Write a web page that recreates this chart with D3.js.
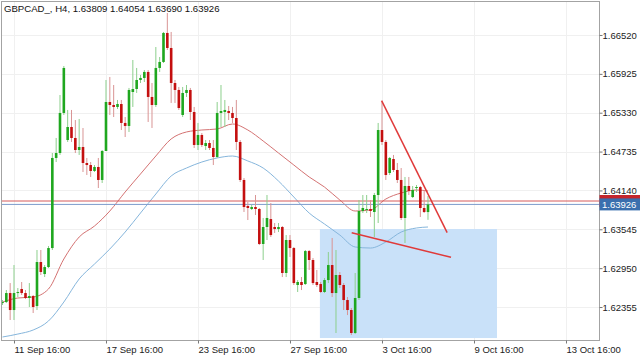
<!DOCTYPE html>
<html><head><meta charset="utf-8">
<script src="https://cdn.jsdelivr.net/npm/d3@7"></script>
<style>
html,body{margin:0;padding:0;background:#fff;}
svg{display:block;font-family:"Liberation Sans",Arial,sans-serif;}
</style></head><body>
<svg id="chart" width="640" height="359"></svg>
<script>
const title = "GBPCAD_, H4, 1.63809 1.64054 1.63690 1.63926";
const firstBarIndex = -3;
const open = [1.62416,1.62431,1.62569,1.62309,1.62569,1.62631,1.62569,1.62493,1.62523,1.62370,
1.63044,1.62860,1.62967,1.63258,1.64637,1.64713,1.65326,1.64912,1.65111,1.64943,
1.64759,1.64805,1.64560,1.64529,1.64438,1.64499,1.64300,1.64744,1.65494,1.65448,
1.65418,1.65463,1.65173,1.65127,1.65647,1.65693,1.65831,1.65862,1.65954,1.65571,
1.65448,1.66015,1.66107,1.66551,1.66321,1.65785,1.65678,1.65295,1.65632,1.65678,
1.65341,1.64836,1.64989,1.64820,1.64866,1.64790,1.64652,1.65326,1.65341,1.65356,
1.65326,1.65249,1.64882,1.64300,1.63902,1.63856,1.63886,1.63856,1.63320,1.63580,
1.63702,1.63580,1.63549,1.63580,1.62876,1.63381,1.63258,1.62692,1.62738,1.62707,
1.63212,1.63075,1.62738,1.62707,1.62585,1.62768,1.62998,1.62569,1.62845,1.62692,
1.62462,1.62309,1.61957,1.62493,1.63825,1.63840,1.63856,1.63810,1.64070,1.65065,
1.64882,1.64407,1.64621,1.64453,1.64300,1.63718,1.64208,1.64039,1.64177,1.64192,
1.63871,1.63809];
const high = [1.62462,1.62615,1.62722,1.62998,1.62646,1.62738,1.62615,1.62722,1.62539,1.63228,
1.63228,1.62998,1.63289,1.64713,1.64943,1.65601,1.66045,1.65372,1.65372,1.65218,
1.65234,1.65096,1.64637,1.64575,1.64529,1.64637,1.64759,1.65831,1.65877,1.65754,
1.65525,1.65525,1.65264,1.65709,1.66137,1.66015,1.65908,1.65984,1.65984,1.65785,
1.66336,1.66183,1.66566,1.66857,1.66566,1.65831,1.65724,1.65724,1.65754,1.65709,
1.65418,1.65173,1.65019,1.64912,1.64912,1.64912,1.65494,1.65754,1.65525,1.65433,
1.65418,1.65525,1.64912,1.64330,1.63963,1.63917,1.64070,1.63871,1.63718,1.64070,
1.63947,1.63641,1.63641,1.63595,1.63457,1.63457,1.63274,1.62768,1.62814,1.63228,
1.63228,1.63105,1.62922,1.62738,1.62799,1.63197,1.63412,1.63228,1.62891,1.62722,
1.62508,1.62340,1.62876,1.63993,1.64070,1.64070,1.63993,1.64101,1.65173,1.65509,
1.64912,1.64652,1.64683,1.64560,1.64483,1.64346,1.64346,1.64208,1.64223,1.64208,
1.64147,1.64054];
const low = [1.62386,1.62416,1.62156,1.62156,1.62508,1.62539,1.62477,1.62355,1.62263,1.62309,
1.62845,1.62814,1.62952,1.63228,1.64575,1.64683,1.65295,1.64882,1.64882,1.64713,
1.64683,1.64422,1.64376,1.64346,1.64422,1.64177,1.64254,1.64744,1.65295,1.65264,
1.65387,1.65065,1.64958,1.65035,1.65418,1.65632,1.65785,1.65800,1.65188,1.65096,
1.65418,1.65954,1.66091,1.66290,1.65479,1.65479,1.65372,1.65264,1.65571,1.65218,
1.64790,1.64759,1.64805,1.64759,1.64759,1.64529,1.64637,1.65111,1.65111,1.65218,
1.65173,1.64759,1.64269,1.63810,1.63687,1.63840,1.63764,1.63304,1.63075,1.63381,
1.63427,1.63488,1.63503,1.62814,1.62814,1.63121,1.62692,1.62585,1.62615,1.62692,
1.62922,1.62692,1.62661,1.62569,1.62569,1.62722,1.62508,1.61957,1.62646,1.62309,
1.62232,1.61926,1.61941,1.62462,1.63794,1.63794,1.63733,1.63427,1.63641,1.64836,
1.64300,1.64376,1.64422,1.64254,1.63687,1.63335,1.64070,1.64024,1.64116,1.63733,
1.63794,1.63690];
const close = [1.62431,1.62569,1.62309,1.62569,1.62585,1.62569,1.62493,1.62523,1.62355,1.63044,
1.62891,1.62967,1.63258,1.64637,1.64713,1.65326,1.66015,1.65111,1.64943,1.64759,
1.64805,1.64560,1.64529,1.64438,1.64499,1.64300,1.64744,1.65494,1.65448,1.65418,
1.65463,1.65173,1.65127,1.65678,1.65693,1.65831,1.65862,1.65954,1.65571,1.65448,
1.66015,1.66107,1.66551,1.66321,1.65785,1.65678,1.65402,1.65632,1.65678,1.65341,
1.64836,1.64989,1.64836,1.64866,1.64790,1.64652,1.65326,1.65356,1.65372,1.65326,
1.65249,1.64882,1.64300,1.63886,1.63871,1.63886,1.63856,1.63320,1.63580,1.63718,
1.63457,1.63549,1.63580,1.62876,1.63381,1.63258,1.62722,1.62738,1.62692,1.63212,
1.63075,1.62722,1.62692,1.62585,1.62768,1.62998,1.62569,1.62845,1.62692,1.62462,
1.62309,1.61957,1.62493,1.63825,1.63871,1.63856,1.63825,1.64070,1.65065,1.64882,
1.64376,1.64637,1.64453,1.64300,1.63718,1.64208,1.64131,1.64147,1.64192,1.63871,
1.63810,1.63926];

const maIndex = [-3,1,5,9,13,17,21,25,29,33,37,41,45,49,53,57,61,65,69,73,77,81,85,89,93,97,101,105,108];
const maFast = [1.62431,1.62493,1.62508,1.62631,1.63090,1.63427,1.63595,1.63825,1.64116,1.64392,
1.64667,1.64928,1.65035,1.65065,1.65081,1.65157,1.65065,1.64897,1.64713,1.64529,
1.64346,1.64192,1.63993,1.63825,1.63840,1.64009,1.64101,1.64147,1.64131];
const maSlow = [1.61896,1.61941,1.62003,1.62141,1.62431,1.62784,1.63013,1.63243,1.63503,1.63794,
1.64085,1.64361,1.64483,1.64575,1.64637,1.64667,1.64591,1.64483,1.64284,1.64039,
1.63794,1.63626,1.63457,1.63274,1.63258,1.63350,1.63503,1.63565,1.63580];

const priceTicks = [1.66520,1.65925,1.65330,1.64735,1.64140,1.63545,1.62950,1.62355];
const timeTickIndex = [0,24,48,72,96,120,144];
const timeTickLabels = ["11 Sep 16:00","17 Sep 16:00","23 Sep 16:00","27 Sep 16:00","3 Oct 16:00","9 Oct 16:00","13 Oct 16:00"];

const bidPrice = 1.63926, askPrice = 1.63978;
const zoneIndex = [79.8, 126.0];
const zonePrice = [1.63549, 1.61880];
const trendUpperIndex = [95.9, 113.0];
const trendUpperPrice = [1.65514, 1.63493];
const trendLowerIndex = [88.1, 114.0];
const trendLowerPrice = [1.63493, 1.63116];

const bars = open.map((o,k)=>({i:firstBarIndex+k,o:o,h:high[k],l:low[k],c:close[k]}));

const L=2, R=599, T=2, B=340;
const svg = d3.select("#chart");
const x = d3.scaleLinear().domain([-3.13,152.61]).range([L,R]);
const y = d3.scaleLinear().domain([1.61850,1.67025]).range([B,T]);

svg.append("defs").append("clipPath").attr("id","plot")
  .append("rect").attr("x",L).attr("y",T).attr("width",R-L).attr("height",B-T);

// grid
const grid = svg.append("g").attr("clip-path","url(#plot)");
grid.selectAll(".hg").data(priceTicks).enter().append("line")
  .attr("x1",L).attr("x2",R).attr("y1",d=>Math.round(y(d))+0.5).attr("y2",d=>Math.round(y(d))+0.5)
  .attr("stroke","#f0f0f0").attr("stroke-width",1);
grid.selectAll(".vg").data(timeTickIndex).enter().append("line")
  .attr("y1",T).attr("y2",B).attr("x1",d=>Math.round(x(d))+0.5).attr("x2",d=>Math.round(x(d))+0.5)
  .attr("stroke","#f0f0f0").attr("stroke-width",1);

const plot = svg.append("g").attr("clip-path","url(#plot)");

// zone rectangle
plot.append("rect")
  .attr("x",x(zoneIndex[0])).attr("width",x(zoneIndex[1])-x(zoneIndex[0]))
  .attr("y",y(zonePrice[0])).attr("height",y(zonePrice[1])-y(zonePrice[0]))
  .attr("fill","#c9e1f9");

// moving averages
const maLine = vals => d3.line().curve(d3.curveMonotoneX)
  .x((d,k)=>x(maIndex[k])).y(d=>y(d))(vals);
plot.append("path").attr("d",maLine(maSlow)).attr("fill","none").attr("stroke","#86b6dc").attr("stroke-width",1);
plot.append("path").attr("d",maLine(maFast)).attr("fill","none").attr("stroke","#d47272").attr("stroke-width",1);

// price lines
plot.append("line").attr("x1",L).attr("x2",R).attr("y1",y(askPrice)).attr("y2",y(askPrice))
  .attr("stroke","#d65a5a").attr("stroke-width",1);
plot.append("line").attr("x1",L).attr("x2",R).attr("y1",y(bidPrice)).attr("y2",y(bidPrice))
  .attr("stroke","#7d9ccc").attr("stroke-width",1);

// candles
const up = d => d.c >= d.o;
plot.selectAll(".wick").data(bars).enter().append("line")
  .attr("x1",d=>x(d.i)).attr("x2",d=>x(d.i))
  .attr("y1",d=>y(d.h)).attr("y2",d=>y(d.l))
  .attr("stroke",d=>up(d)?"#8ccf8c":"#d99494").attr("stroke-width",1);
const bw = 2.6;
plot.selectAll(".body").data(bars).enter().append("rect")
  .attr("x",d=>x(d.i)-bw/2).attr("width",bw)
  .attr("y",d=>y(Math.max(d.o,d.c)))
  .attr("height",d=>Math.max(1,Math.abs(y(d.o)-y(d.c))))
  .attr("fill",d=>up(d)?"#1fa71f":"#c40f0f");

// trend lines
plot.append("line")
  .attr("x1",x(trendUpperIndex[0])).attr("y1",y(trendUpperPrice[0]))
  .attr("x2",x(trendUpperIndex[1])).attr("y2",y(trendUpperPrice[1]))
  .attr("stroke","#e03a3a").attr("stroke-width",1.5);
plot.append("line")
  .attr("x1",x(trendLowerIndex[0])).attr("y1",y(trendLowerPrice[0]))
  .attr("x2",x(trendLowerIndex[1])).attr("y2",y(trendLowerPrice[1]))
  .attr("stroke","#e03a3a").attr("stroke-width",1.5);

// frame
svg.append("rect").attr("x",L-0.5).attr("y",T-0.5).attr("width",R-L+1).attr("height",B-T+1)
  .attr("fill","none").attr("stroke","#a3a3a3").attr("stroke-width",1);

// axes
const yAxis = d3.axisRight(y).tickValues(priceTicks).tickFormat(d3.format(".5f"))
  .tickSize(3).tickPadding(0);
const gy = svg.append("g").attr("transform",`translate(${R+0.5},0)`).call(yAxis);
gy.select(".domain").remove();
gy.selectAll("line").attr("stroke","#777");
gy.selectAll("text").attr("fill","#222").style("font-size","9.5px").style("font-family","Liberation Sans, Arial, sans-serif");

const xAxis = d3.axisBottom(x).tickValues(timeTickIndex).tickFormat((d,k)=>timeTickLabels[k])
  .tickSize(3).tickPadding(3);
const gx = svg.append("g").attr("transform",`translate(0,${B+0.5})`).call(xAxis);
gx.select(".domain").remove();
gx.selectAll("line").attr("stroke","#777");
gx.selectAll("text").attr("text-anchor","start").attr("fill","#222")
  .style("font-size","9.5px").style("font-family","Liberation Sans, Arial, sans-serif");

// price labels
svg.append("rect").attr("x",R+0.5).attr("width",640-R).attr("y",y(askPrice)-6).attr("height",12).attr("fill","#c4262c");
svg.append("rect").attr("x",R+0.5).attr("width",640-R).attr("y",y(bidPrice)-6).attr("height",12).attr("fill","#3a6fae");
svg.append("text").attr("x",R+3).attr("y",y(bidPrice)).attr("dy","0.35em")
  .attr("fill","#fff").style("font-size","9.5px").text(d3.format(".5f")(bidPrice));

// title
svg.append("text").attr("x",4).attr("y",12).attr("fill","#111").style("font-size","9.6px").text(title);
</script>
</body></html>
